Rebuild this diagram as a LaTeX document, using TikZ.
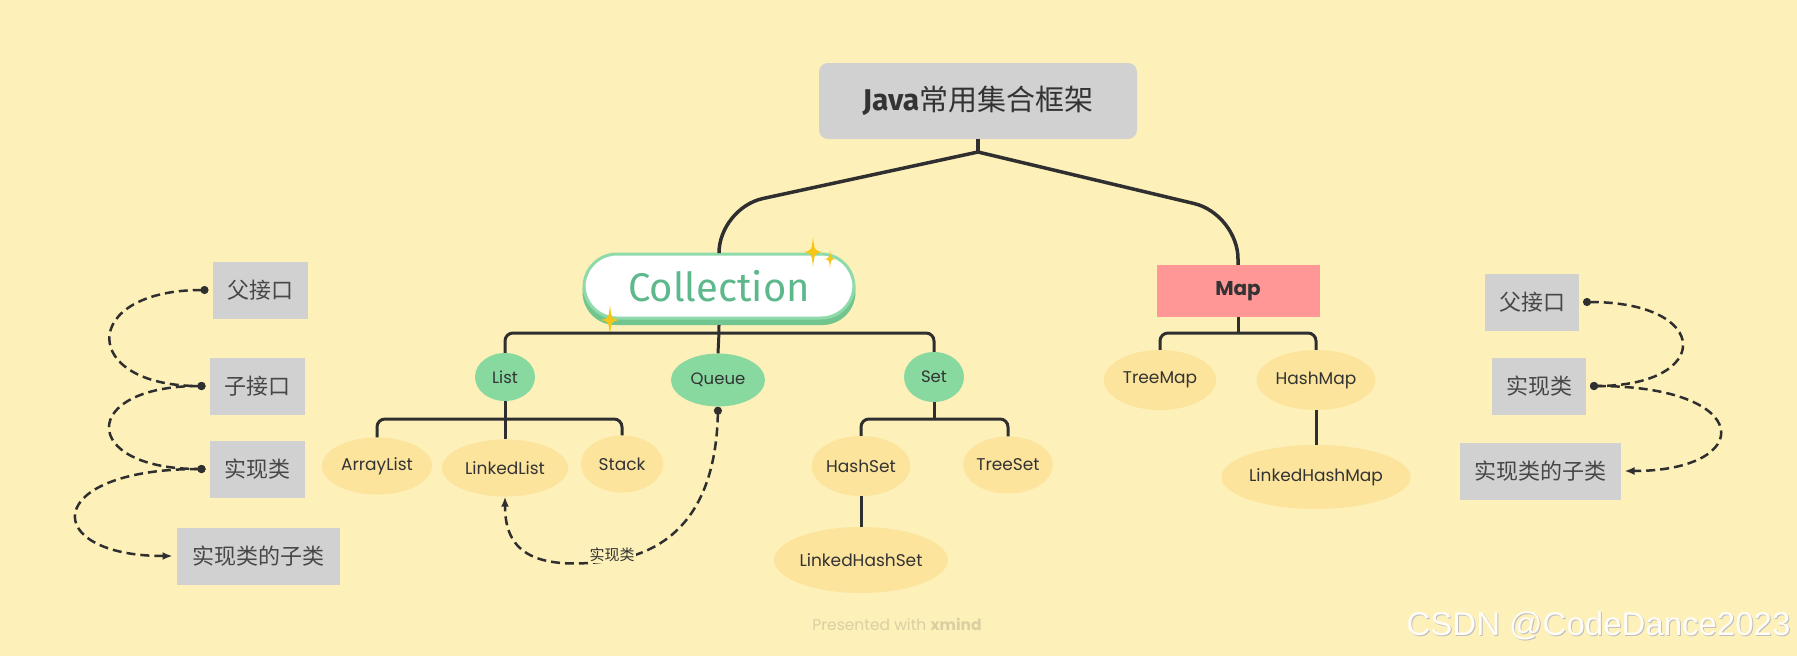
\documentclass[tikz,border=0pt]{standalone}
\usepackage{fontspec}
\setmainfont{Poppins}
\newfontfamily\cjk{Noto Sans CJK SC}
\newfontfamily\fira{Fira Sans}
\newfontfamily\arial{Liberation Sans}
\usetikzlibrary{arrows.meta,shapes.geometric}
\definecolor{bg}{HTML}{FEF0B9}
\definecolor{leafc}{HTML}{FCE49C}
\definecolor{greenc}{HTML}{88D9A0}
\definecolor{grayc}{HTML}{D1D1D1}
\definecolor{mapc}{HTML}{FF9797}
\definecolor{linec}{HTML}{2F2F2F}
\definecolor{txt}{HTML}{333333}
\definecolor{collborder}{HTML}{8FDAAA}
\definecolor{collshadow}{HTML}{72C58E}
\definecolor{colltext}{HTML}{5DB88C}
\definecolor{spark}{HTML}{F5C518}
\definecolor{footc}{HTML}{D9CFA3}
\tikzset{
  legendbox/.style={rectangle, fill=grayc, minimum height=57pt, inner sep=0pt, outer sep=4pt, text=txt!90, font=\cjk\fontsize{22}{24}\selectfont},
  leaf/.style={ellipse, fill=leafc, inner sep=0pt, text=txt, font=\fontsize{17}{19}\selectfont},
  midnode/.style={ellipse, fill=greenc, inner sep=0pt, text=txt, font=\fontsize{16.5}{19}\selectfont},
  branch/.style={draw=linec, line width=3pt, rounded corners=8pt},
  trunk/.style={draw=linec, line width=3.5pt, rounded corners=45pt},
  rel/.style={draw=linec, line width=2.5pt, dash pattern=on 9pt off 5pt},
  dotdot/.style={{Circle[length=8pt]}-{Circle[length=8pt]}},
  dotarrow/.style={{Circle[length=8pt]}-{Latex[length=10pt,width=8pt]}},
}
\newcommand\sparkle[3]{\fill[spark, shift={(#1,#2)}, scale=#3]
  (0,-1) .. controls (0.1,-0.1) .. (0.62,0) .. controls (0.1,0.1) .. (0,1)
  .. controls (-0.1,0.1) .. (-0.62,0) .. controls (-0.1,-0.1) .. cycle;}
\begin{document}
\begin{tikzpicture}[x=1pt,y=-1pt]
\useasboundingbox[fill=bg] (0,0) rectangle (1797,656);

% title
\node[fill=grayc, rounded corners=9pt, minimum width=318pt, minimum height=76pt, inner sep=0pt, text=txt] (java) at (978,101)
  {\fira\bfseries\fontsize{30}{32}\selectfont Java{\cjk\mdseries\fontsize{29}{32}\selectfont 常用集合框架}};

% Collection pill
\node[fill=collshadow, rounded corners=33pt, minimum width=273pt, minimum height=66pt, inner sep=0pt] (cshadow) at (719,292) {};
\node[fill=white, draw=collborder, line width=3pt, rounded corners=33pt, minimum width=270pt, minimum height=64pt, inner sep=0pt, text=colltext, font=\fira\fontsize{40}{42}\selectfont] (coll) at (719,286) {Collection};
\sparkle{813}{252}{15}
\sparkle{830}{259}{9}
\sparkle{610}{320}{15}

% Map
\node[fill=mapc, minimum width=163pt, minimum height=52pt, inner sep=0pt, text=txt, font=\bfseries\fontsize{20}{22}\selectfont] (map) at (1238,291) {Map};

% trunk
\coordinate (jb) at (978,152);
\coordinate (jl) at (719,208);
\coordinate (jr) at (1238,214);
\draw[draw=linec, line width=3.5pt] (java.south) -- (jb);
\draw[trunk] (jb) -- (jl) -- (coll.north);
\draw[trunk] (jb) -- (jr) -- (map.north);

% second level
\node[midnode, minimum width=60pt, minimum height=48pt] (list) at (505,377) {List};
\node[midnode, minimum width=94pt, minimum height=53pt] (queue) at (718,380) {Queue};
\node[midnode, minimum width=60pt, minimum height=50pt] (set) at (934,377) {Set};

\coordinate (cb) at (719,333);
\draw[branch] (cshadow.south) -- (cb) -- (queue.north);
\draw[branch] (list.north) |- (cb) -| (set.north);

% list children
\node[leaf, minimum width=110pt, minimum height=57pt] (arraylist) at (377,466) {ArrayList};
\node[leaf, minimum width=126pt, minimum height=57pt] (linkedlist) at (505,468) {LinkedList};
\node[leaf, minimum width=82pt, minimum height=57pt] (stack) at (622,464) {Stack};
\coordinate (lb) at (505,419);
\draw[branch] (list.south) -- (lb) -- (linkedlist.north);
\draw[branch] (arraylist.north) |- (lb) -| (stack.north);

% set children
\node[leaf, minimum width=94pt, minimum height=60pt] (hashset) at (861,466) {HashSet};
\node[leaf, minimum width=85pt, minimum height=57pt] (treeset) at (1008,465) {TreeSet};
\node[leaf, minimum width=147pt, minimum height=66pt] (linkedhashset) at (861,560) {LinkedHashSet};
\coordinate (sb) at (934,419);
\draw[branch] (set.south) -- (sb);
\draw[branch] (hashset.north) |- (sb) -| (treeset.north);
\draw[branch] (hashset.south) -- (linkedhashset.north);

% map children
\node[leaf, minimum width=112pt, minimum height=60pt] (treemap) at (1160,380) {TreeMap};
\node[leaf, minimum width=119pt, minimum height=60pt] (hashmap) at (1316,380) {HashMap};
\node[leaf, minimum width=181pt, minimum height=64pt] (linkedhashmap) at (1316,477) {LinkedHashMap};
\coordinate (mb) at (1238,333);
\draw[branch] (map.south) -- (mb);
\draw[branch] (treemap.north) |- (mb) -| (hashmap.north);
\draw[branch] (hashmap.south) -- (linkedhashmap.north);

% Queue -> LinkedList relation
\coordinate (qm) at (600,562);
\draw[rel, dotarrow] (queue.south) .. controls (716,500) and (680,555) .. (qm) .. controls (525,570) and (505,545) .. (linkedlist.south);
\node[fill=bg, inner sep=1pt, text=txt, font=\cjk\fontsize{15}{16}\selectfont] (qlabel) at (612,555) {实现类};

% left legend
\node[legendbox, minimum width=95pt] (l1) at (260,290) {父接口};
\node[legendbox, minimum width=95pt] (l2) at (257,386) {子接口};
\node[legendbox, minimum width=95pt] (l3) at (257,469) {实现类};
\node[legendbox, minimum width=163pt] (l4) at (258,556) {实现类的子类};
\draw[rel, dotdot] (l1.west) .. controls (79,290) and (79,386) .. (l2.west);
\draw[rel, dotdot] (l2.west) .. controls (79,386) and (79,469) .. (l3.west);
\draw[rel, dotarrow] (l3.west) .. controls (40,469) and (40,556) .. (l4.west);

% right legend
\node[legendbox, minimum width=94pt] (r1) at (1532,302) {父接口};
\node[legendbox, minimum width=94pt] (r2) at (1539,386) {实现类};
\node[legendbox, minimum width=161pt] (r3) at (1540,471) {实现类的子类};
\draw[rel, dotdot] (r1.east) .. controls (1713,302) and (1713,386) .. (r2.east);
\draw[rel, dotarrow] (r2.east) .. controls (1756,386) and (1756,471) .. (r3.east);

% footer
\node[text=footc, font=\fontsize{15.5}{17}\selectfont] (pres) at (897,624) {Presented with \textbf{xmind}};
\node[anchor=east, text=black!25, font=\arial\fontsize{33}{36}\selectfont] (csdnshadow) at (1795,627) {CSDN @CodeDance2023};
\node[anchor=east, text=white!85!bg, font=\arial\fontsize{33}{36}\selectfont] (csdn) at (1794,626) {CSDN @CodeDance2023};
\end{tikzpicture}
\end{document}
